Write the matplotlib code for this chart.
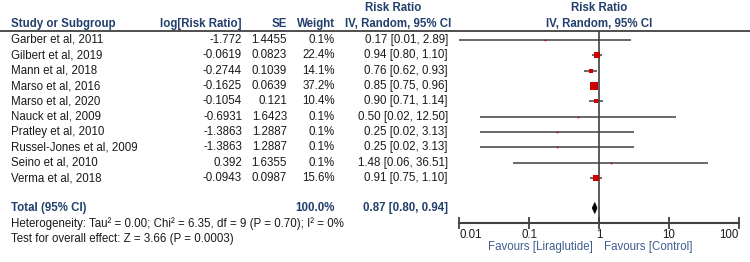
import numpy as np
import matplotlib
matplotlib.use("Agg")
import matplotlib.pyplot as plt
from matplotlib.patches import Polygon
from matplotlib.ticker import NullLocator

plt.rcParams["font.family"] = ["Liberation Sans", "DejaVu Sans"]

# Dữ liệu các nghiên cứu
studies = ["Garber et al, 2011", "Gilbert et al, 2019", "Mann et al, 2018",
           "Marso et al, 2016", "Marso et al, 2020", "Nauck et al, 2009",
           "Pratley et al, 2010", "Russel-Jones et al, 2009", "Seino et al, 2010",
           "Verma et al, 2018"]
log_rr = ["-1.772", "-0.0619", "-0.2744", "-0.1625", "-0.1054", "-0.6931",
          "-1.3863", "-1.3863", "0.392", "-0.0943"]
se = ["1.4455", "0.0823", "0.1039", "0.0639", "0.121", "1.6423",
      "1.2887", "1.2887", "1.6355", "0.0987"]
weight = [0.1, 22.4, 14.1, 37.2, 10.4, 0.1, 0.1, 0.1, 0.1, 15.6]
rr = [0.17, 0.94, 0.76, 0.85, 0.90, 0.50, 0.25, 0.25, 1.48, 0.91]
ci_lo = [0.01, 0.80, 0.62, 0.75, 0.71, 0.02, 0.02, 0.02, 0.06, 0.75]
ci_hi = [2.89, 1.10, 0.93, 0.96, 1.14, 12.50, 3.13, 3.13, 36.51, 1.10]

total_rr, total_lo, total_hi = 0.87, 0.80, 0.94
total_weight = 100.0
heterogeneity = "Heterogeneity: Tau\u00b2 = 0.00; Chi\u00b2 = 6.35, df = 9 (P = 0.70); I\u00b2 = 0%"
overall = "Test for overall effect: Z = 3.66 (P = 0.0003)"

xticks = [0.01, 0.1, 1, 10, 100]
xtick_labels = ["0.01", "0.1", "1", "10", "100"]

# Bố cục (pixel)
W, H = 750, 262
row_y0, row_dy = 40, 15.35
header_line_y = 31
total_y, het_y, test_y = 208, 224, 239
axis_y = 223
fav_y = 247

head_col = "#22406c"
txt_col = "#1a1a1a"
line_col = "#404040"
fs = 8.3

fig = plt.figure(figsize=(W / 100, H / 100), dpi=100)
ax_t = fig.add_axes([0, 0, 1, 1])
ax_t.set_xlim(0, W)
ax_t.set_ylim(H, 0)
ax_t.axis("off")

# Tiêu đề cột
ax_t.text(11, 24, "Study or Subgroup", ha="left", va="center", fontsize=fs,
          fontweight="bold", color=head_col)
ax_t.text(242, 24, "log[Risk Ratio]", ha="right", va="center", fontsize=fs,
          fontweight="bold", color=head_col)
ax_t.text(287, 24, "SE", ha="right", va="center", fontsize=fs,
          fontweight="bold", color=head_col)
ax_t.text(335, 24, "Weight", ha="right", va="center", fontsize=fs,
          fontweight="bold", color=head_col)
ax_t.text(393, 8, "Risk Ratio", ha="center", va="center", fontsize=fs,
          fontweight="bold", color=head_col)
ax_t.text(398, 24, "IV, Random, 95% CI", ha="center", va="center", fontsize=fs,
          fontweight="bold", color=head_col)
ax_t.text(599, 8, "Risk Ratio", ha="center", va="center", fontsize=fs,
          fontweight="bold", color=head_col)
ax_t.text(599, 24, "IV, Random, 95% CI", ha="center", va="center", fontsize=fs,
          fontweight="bold", color=head_col)
ax_t.hlines(header_line_y, 0, W, color=line_col, linewidth=1.3)

# Các hàng nghiên cứu
for i, name in enumerate(studies):
    y = row_y0 + i * row_dy
    ax_t.text(11, y, name, ha="left", va="center", fontsize=fs, color=txt_col)
    ax_t.text(242, y, log_rr[i], ha="right", va="center", fontsize=fs, color=txt_col)
    ax_t.text(287, y, se[i], ha="right", va="center", fontsize=fs, color=txt_col)
    ax_t.text(335, y, f"{weight[i]:.1f}%", ha="right", va="center", fontsize=fs,
              color=txt_col)
    ax_t.text(448, y, f"{rr[i]:.2f} [{ci_lo[i]:.2f}, {ci_hi[i]:.2f}]", ha="right",
              va="center", fontsize=fs, color=txt_col)

# Hàng tổng
ax_t.text(11, total_y, "Total (95% CI)", ha="left", va="center", fontsize=fs,
          fontweight="bold", color=head_col)
ax_t.text(335, total_y, f"{total_weight:.1f}%", ha="right", va="center", fontsize=fs,
          fontweight="bold", color=head_col)
ax_t.text(448, total_y, f"{total_rr:.2f} [{total_lo:.2f}, {total_hi:.2f}]", ha="right",
          va="center", fontsize=fs, fontweight="bold", color=head_col)
ax_t.text(11, het_y, heterogeneity, ha="left", va="center", fontsize=fs, color=txt_col)
ax_t.text(11, test_y, overall, ha="left", va="center", fontsize=fs, color=txt_col)

# Forest plot
ax_f = fig.add_axes([459 / W, 0, 280 / W, 1])
ax_f.patch.set_alpha(0)
ax_f.set_xscale("log")
ax_f.set_xlim(0.01, 100)
ax_f.set_ylim(H, 0)
for s in ["top", "left", "right"]:
    ax_f.spines[s].set_visible(False)
ax_f.spines["bottom"].set_position(("data", axis_y))
ax_f.spines["bottom"].set_color(line_col)
ax_f.spines["bottom"].set_linewidth(1.5)
ax_f.set_yticks([])
ax_f.set_xticks(xticks)
ax_f.set_xticklabels(xtick_labels)
ax_f.xaxis.set_minor_locator(NullLocator())
ax_f.tick_params(axis="x", direction="inout", length=8, width=1.3, color=line_col,
                 labelsize=fs, labelcolor=txt_col, pad=0)
tl = ax_f.get_xticklabels()
tl[0].set_ha("left")
tl[-1].set_ha("right")

ax_f.vlines(1, header_line_y, axis_y, color=line_col, linewidth=1.2)

for i in range(len(studies)):
    y = row_y0 + i * row_dy
    ax_f.hlines(y, ci_lo[i], ci_hi[i], color=line_col, linewidth=1.1)
    side_px = max(1.3 * np.sqrt(weight[i]), 1.6)
    ax_f.plot(rr[i], y, marker="s", markersize=side_px * 0.72, color="#cc0000",
              markeredgewidth=0, linestyle="none", zorder=3)

diamond = Polygon([[total_lo, total_y], [total_rr, total_y - 5.5],
                   [total_hi, total_y], [total_rr, total_y + 5.5]],
                  closed=True, facecolor="black", edgecolor="black", linewidth=0.5)
ax_f.add_patch(diamond)

fav_col = "#3f5f8f"
ax_t.text(593, fav_y, "Favours [Liraglutide]", ha="right", va="center", fontsize=fs,
          color=fav_col)
ax_t.text(604, fav_y, "Favours [Control]", ha="left", va="center", fontsize=fs,
          color=fav_col)

fig.savefig("out.png", dpi=100)
